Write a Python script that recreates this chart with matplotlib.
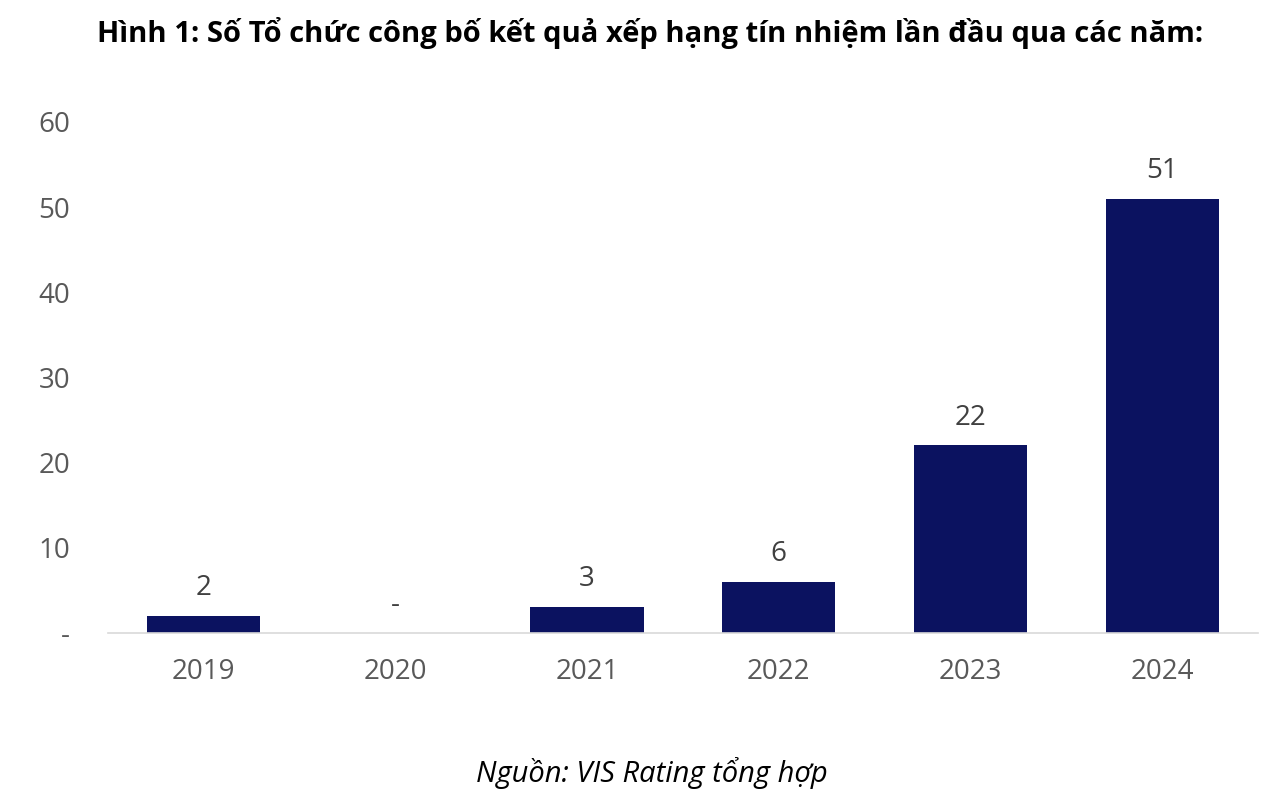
import matplotlib
matplotlib.use('Agg')
import matplotlib.pyplot as plt

years = ['2019', '2020', '2021', '2022', '2023', '2024']
counts = [2, 0, 3, 6, 22, 51]
y_ticks = [0, 10, 20, 30, 40, 50, 60]
y_labels = ['-', '10', '20', '30', '40', '50', '60']

plt.rcParams['font.family'] = ['Open Sans', 'DejaVu Sans']
navy = '#0b1260'
grey = '#595959'

fig = plt.figure(figsize=(12.8, 7.97), dpi=100)
ax = fig.add_axes([0.084, 0.206, 0.899, 0.641])

x = range(len(years))
bars = ax.bar(x, counts, width=0.59, color=navy)

# data labels, zero shown as a dash like Excel
for i, v in enumerate(counts):
    txt = str(v) if v else '-'
    ax.annotate(txt, (i, v), xytext=(0, 10), textcoords='offset points',
                ha='center', va='bottom', fontsize=20, color='#404040')

ax.set_xlim(-0.5, 5.5)
ax.set_ylim(0, 60)
ax.set_xticks(list(x))
ax.set_xticklabels(years)
ax.set_yticks(y_ticks)
ax.set_yticklabels(y_labels)
ax.tick_params(axis='both', length=0, labelsize=20, labelcolor=grey)
ax.tick_params(axis='x', pad=18)
ax.tick_params(axis='y', pad=27)

for s in ['top', 'right', 'left']:
    ax.spines[s].set_visible(False)
ax.spines['bottom'].set_color('#d9d9d9')
ax.spines['bottom'].set_linewidth(1.2)

fig.text(0.508, 0.958, 'Hình 1: Số Tổ chức công bố kết quả xếp hạng tín nhiệm lần đầu qua các năm:',
         ha='center', va='center', fontsize=21, fontweight='bold', color='black')
fig.text(0.509, 0.03, 'Nguồn: VIS Rating tổng hợp', ha='center', va='center',
         fontsize=21, style='italic', color='black')

fig.savefig('out.png', dpi=100)
